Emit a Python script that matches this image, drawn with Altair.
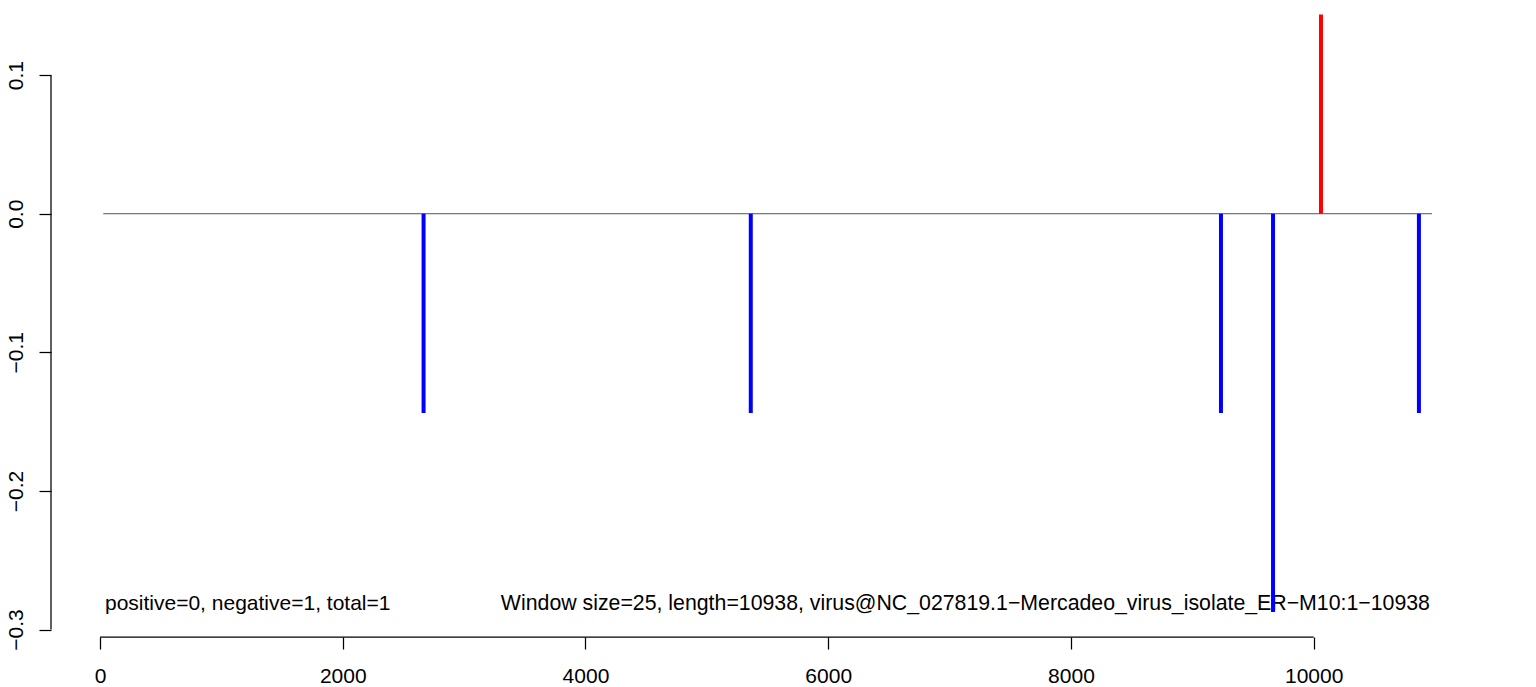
import altair as alt
import pandas as pd

# ---- data ----
positions = [2666, 5362, 9236, 9665, 10060, 10867]
scores = [-0.1437, -0.1437, -0.1437, -0.2874, 0.1437, -0.1437]
y_ticks = [-0.3, -0.2, -0.1, 0.0, 0.1]
x_ticks = [0, 2000, 4000, 6000, 8000, 10000]
baseline_span = [27, 10975]
left_note = "positive=0, negative=1, total=1"
right_note = "Window size=25, length=10938, virus@NC_027819.1\u2212Mercadeo_virus_isolate_ER\u2212M10:1\u221210938"

FONT = "Liberation Sans"
W, H = 1430, 627

xscale = alt.Scale(domain=[-403.7, 11378.5], nice=False, zero=False)
yscale = alt.Scale(domain=[-0.3054, 0.1470], nice=False, zero=False)

bars_df = pd.DataFrame({"pos": positions, "score": scores})
bars_df["zero"] = 0.0
bars_df["sign"] = ["pos" if s > 0 else "neg" for s in scores]

x_axis = alt.Axis(values=x_ticks, format="d", domain=False, grid=False,
                  tickSize=12, tickWidth=1.25, tickColor="black",
                  labelFont=FONT, labelFontSize=21, labelColor="black",
                  labelPadding=33, labelBaseline="alphabetic",
                  labelFlush=False, labelOverlap=False, title=None)
y_axis = alt.Axis(values=y_ticks, format=".1f", domain=False, grid=False,
                  tickSize=12, tickWidth=1.25, tickColor="black",
                  labelFont=FONT, labelFontSize=21, labelColor="black",
                  labelAngle=-90, labelAlign="center", labelBaseline="alphabetic",
                  labelPadding=17, labelFlush=False, labelOverlap=False, title=None)

bars = alt.Chart(bars_df).mark_rule(strokeWidth=4, clip=True).encode(
    x=alt.X("pos:Q", scale=xscale, axis=x_axis),
    y=alt.Y("score:Q", scale=yscale, axis=y_axis),
    y2="zero:Q",
    color=alt.Color("sign:N", scale=alt.Scale(domain=["pos", "neg"], range=["#ff0000", "#0000ff"]), legend=None),
)

base_df = pd.DataFrame({"x0": [baseline_span[0]], "x1": [baseline_span[1]], "y0": [0.0]})
baseline = alt.Chart(base_df).mark_rule(color="#555555", strokeWidth=1).encode(
    x=alt.X("x0:Q", scale=xscale, axis=x_axis),
    x2="x1:Q",
    y=alt.Y("y0:Q", scale=yscale, axis=y_axis),
)

yline_df = pd.DataFrame({"a": [min(y_ticks)], "b": [max(y_ticks)]})
yline = alt.Chart(yline_df).mark_rule(color="black", strokeWidth=1.25).encode(
    x=alt.value(0),
    y=alt.Y("a:Q", scale=yscale, axis=y_axis),
    y2="b:Q",
)

xline_df = pd.DataFrame({"a": [min(x_ticks)], "b": [max(x_ticks)]})
xline = alt.Chart(xline_df).mark_rule(color="black", strokeWidth=1.25).encode(
    y=alt.value(H),
    x=alt.X("a:Q", scale=xscale, axis=x_axis),
    x2="b:Q",
)

notes_df = pd.DataFrame({
    "x": [41, 10958],
    "y": [-0.2856, -0.2856],
    "label": [left_note, right_note],
})
note_left = alt.Chart(notes_df.iloc[[0]]).mark_text(
    align="left", baseline="alphabetic", font=FONT, fontSize=21, color="black"
).encode(
    x=alt.X("x:Q", scale=xscale, axis=x_axis),
    y=alt.Y("y:Q", scale=yscale, axis=y_axis),
    text="label:N",
)
note_right = alt.Chart(notes_df.iloc[[1]]).mark_text(
    align="right", baseline="alphabetic", font=FONT, fontSize=21.3, color="black"
).encode(
    x=alt.X("x:Q", scale=xscale, axis=x_axis),
    y=alt.Y("y:Q", scale=yscale, axis=y_axis),
    text="label:N",
)

chart = alt.layer(baseline, yline, xline, note_left, note_right, bars).properties(
    width=W, height=H,
    padding={"left": 43, "top": 2, "right": 40, "bottom": 51},
    autosize="none",
    background="white",
).configure_view(stroke=None)

chart.save("out.html", embed_options={"renderer": "svg", "actions": False})
